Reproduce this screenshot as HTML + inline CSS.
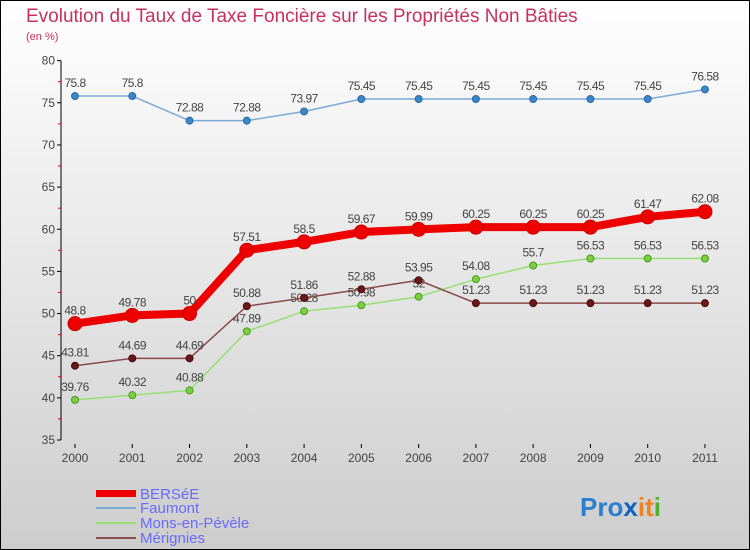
<!DOCTYPE html>
<html><head><meta charset="utf-8"><style>
body{margin:0;}
#c{width:750px;height:550px;position:relative;overflow:hidden;}
text{font-family:"Liberation Sans",sans-serif;}
</style></head><body>
<div id="c">
<svg id="s" width="750" height="550" xmlns="http://www.w3.org/2000/svg">
<defs><linearGradient id="bg" x1="0" y1="0" x2="0" y2="1"><stop offset="0" stop-color="#ffffff"/><stop offset="1" stop-color="#cdcdcd"/></linearGradient></defs>
<rect x="0.5" y="0.5" width="749" height="549" fill="url(#bg)" stroke="#000"/>
<text x="26" y="22" font-size="19" fill="#c8305f">Evolution du Taux de Taxe Foncière sur les Propriétés Non Bâties</text>
<text x="26" y="40" font-size="11" fill="#c8305f">(en %)</text>
<g id="axes"></g><g id="series"></g>
<g>
<rect x="96" y="490" width="40" height="7" fill="#e00"/>
<text x="140" y="499" font-size="15" fill="#6a6aff">BERSéE</text>
<rect x="96" y="507" width="40" height="2" fill="#7aaad8"/>
<text x="140" y="513" font-size="15" fill="#6a6aff">Faumont</text>
<rect x="96" y="522" width="40" height="2" fill="#96e070"/>
<text x="140" y="528" font-size="15" fill="#6a6aff">Mons-en-Pévèle</text>
<rect x="96" y="537" width="40" height="2" fill="#8a5050"/>
<text x="140" y="543" font-size="15" fill="#6a6aff">Mérignies</text>
</g>
<text x="580" y="516" font-size="26" font-weight="bold"><tspan fill="#2a7fd0">Pro</tspan><tspan fill="#1060c0">x</tspan><tspan fill="#f08020">it</tspan><tspan fill="#50b030">i</tspan></text>
</svg></div>
<script>
const years=[2000,2001,2002,2003,2004,2005,2006,2007,2008,2009,2010,2011];
const bersee=[48.8,49.78,50,57.51,58.5,59.67,59.99,60.25,60.25,60.25,61.47,62.08];
const faumont=[75.8,75.8,72.88,72.88,73.97,75.45,75.45,75.45,75.45,75.45,75.45,76.58];
const mons=[39.76,40.32,40.88,47.89,50.28,50.98,52,54.08,55.7,56.53,56.53,56.53];
const merignies=[43.81,44.69,44.69,50.88,51.86,52.88,53.95,51.23,51.23,51.23,51.23,51.23];
const yTicks=[35,40,45,50,55,60,65,70,75,80];
const NS='http://www.w3.org/2000/svg';
const X=i=>75+i*57.27;
const Y=v=>440-(v-35)*8.43;
function mk(t,a,p){const e=document.createElementNS(NS,t);for(const k in a)e.setAttribute(k,a[k]);p.appendChild(e);return e;}
const ax=document.getElementById('axes');
const yl=mk('line',{x1:61,y1:Y(80),x2:61,y2:Y(35),stroke:'#000'},ax);


yTicks.forEach(v=>{
  mk('line',{x1:57,y1:Y(v),x2:61,y2:Y(v),stroke:'#000'},ax);
  if(v<80)mk('line',{x1:58,y1:Y(v+2.5),x2:61,y2:Y(v+2.5),stroke:'#e00'},ax);
  const t=mk('text',{x:55,y:Y(v)+4,'font-size':12,'text-anchor':'end',fill:'#444'},ax);
  t.textContent=v;
  
  
});
years.forEach((y,i)=>{
  mk('line',{x1:X(i),y1:444,x2:X(i),y2:448,stroke:'#000'},ax);
  const t=mk('text',{x:X(i),y:462,'font-size':12,'text-anchor':'middle',fill:'#444'},ax);
  t.textContent=y;
  
  
});
const sg=document.getElementById('series');
function series(name,data,col,dot,w,r,stroke){
  const g=mk('g',{},sg);
  
  
  const p=mk('polyline',{points:data.map((v,i)=>X(i)+','+Y(v)).join(' '),fill:'none',stroke:col,'stroke-width':w,'stroke-linejoin':'round'},g);
  
  
  data.forEach((v,i)=>{
    const c=mk('circle',{cx:X(i),cy:Y(v),r:r,fill:dot,stroke:stroke,'stroke-width':1},g);
    
    
    const t=mk('text',{x:X(i),y:Y(v)-9,'font-size':12,'text-anchor':'middle',fill:'#444','letter-spacing':'-0.5'},g);
    t.textContent=v;
    
    
  });
}
series('mons',mons,'#96e070','#7ad040',1.5,3.5,'#4a9a20');
series('merignies',merignies,'#8a4848','#6a1818',1.5,3.5,'#4a0808');
series('faumont',faumont,'#7aaad8','#3a88c8',1.5,3.5,'#2a68a8');
series('bersee',bersee,'#ee0000','#ee0000',8,7,'#cc0000');
</script>
</body></html>
